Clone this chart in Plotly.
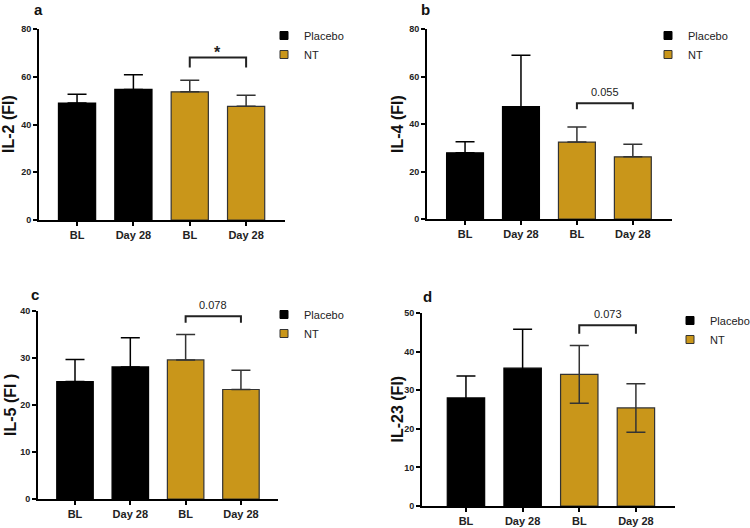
import plotly.graph_objects as go

W, H = 750, 528

categories = ["BL", "Day 28", "BL", "Day 28"]
groups = ["Placebo", "Placebo", "NT", "NT"]
panel_letters = ["a", "b", "c", "d"]
y_titles = ["IL-2 (FI)", "IL-4 (FI)", "IL-5 (FI )", "IL-23 (FI)"]

means_a = [49.0, 54.7, 53.7, 47.6]
errs_a = [3.7, 6.1, 4.8, 4.7]
means_b = [27.9, 47.3, 32.4, 26.2]
errs_b = [4.6, 21.6, 6.3, 5.3]
means_c = [25.0, 28.1, 29.6, 23.3]
errs_c = [4.7, 6.2, 5.4, 4.1]
means_d = [28.0, 35.7, 34.1, 25.4]
errs_d = [5.7, 10.1, 7.5, 6.3]

y_max = [80, 80, 40, 50]
y_dtick = [20, 20, 10, 10]
symmetric_err = [False, False, False, True]

bracket_y = [68.1, 48.7, 38.9, 46.8]
bracket_drop = [4.2, 2.5, 1.4, 2.2]
bracket_label = ["*", "0.055", "0.078", "0.073"]

means = [means_a, means_b, means_c, means_d]
errs = [errs_a, errs_b, errs_c, errs_d]

COL = {"Placebo": "#000000", "NT": "#C9961A"}
EDGE = {"Placebo": "#000000", "NT": "#333333"}
ERRCOL = {"Placebo": "#000000", "NT": "#333333"}
FONT = "Arial, Liberation Sans, sans-serif"

# layout geometry in pixels (left, right, top, bottom)
boxes = [(39, 285, 29, 220), (427, 672, 29, 219), (38, 278, 311, 499), (422, 675, 313, 506)]
xranges = [(-0.675, 3.69), (-0.68, 3.70), (-0.669, 3.67), (-0.776, 3.69)]
legend_pos = [(282, 38), (666, 38), (282, 317), (688, 323)]
letter_pos = [(38, 9), (426, 9), (35, 294), (427, 296)]
ytitle_x = [8.5, 397, 10, 397]

fig = go.Figure()
layout = dict(
    width=W, height=H, margin=dict(l=0, r=0, t=0, b=0, autoexpand=False),
    plot_bgcolor="white", paper_bgcolor="white",
    font=dict(family=FONT, color="#222222"),
    barmode="overlay",
    annotations=[], shapes=[],
)

for i in range(4):
    xa = "x" if i == 0 else f"x{i+1}"
    ya = "y" if i == 0 else f"y{i+1}"
    leg = "legend" if i == 0 else f"legend{i+1}"
    l, r, t, b = boxes[i]
    for g in ["Placebo", "NT"]:
        idx = [k for k, gg in enumerate(groups) if gg == g]
        e = [errs[i][k] for k in idx]
        err = dict(type="data", array=e, color=ERRCOL[g], thickness=1.5, width=9.5, visible=True)
        if not symmetric_err[i]:
            err["symmetric"] = False
            err["arrayminus"] = [0] * len(e)
        fig.add_trace(go.Bar(
            x=idx, y=[means[i][k] for k in idx], width=0.66,
            marker=dict(color=COL[g], line=dict(color=EDGE[g], width=1.2)),
            error_y=err, xaxis=xa, yaxis=ya, showlegend=False, hoverinfo="skip",
        ))
    for g in ["Placebo", "NT"]:
        fig.add_trace(go.Scatter(
            x=[None], y=[None], mode="markers", name=g,
            marker=dict(symbol="square", size=8, color=COL[g],
                        line=dict(color=EDGE[g], width=1)),
            xaxis=xa, yaxis=ya, legend=leg, showlegend=True,
        ))
    key = "" if i == 0 else str(i + 1)
    layout["xaxis" + key] = dict(
        domain=[l / W, r / W], range=list(xranges[i]), anchor=ya,
        tickvals=list(range(len(categories))), ticktext=categories,
        showline=True, linecolor="#000000", linewidth=2,
        ticks="outside", ticklen=4, tickwidth=2, tickcolor="#000000",
        tickfont=dict(family=FONT, size=11, color="#222222", weight="bold"),
        showgrid=False, zeroline=False, fixedrange=True,
    )
    layout["yaxis" + key] = dict(
        domain=[1 - b / H, 1 - t / H], range=[0, y_max[i]], anchor=xa,
        dtick=y_dtick[i], tick0=0,
        showline=True, linecolor="#000000", linewidth=2,
        ticks="outside", ticklen=4, tickwidth=2, tickcolor="#000000",
        tickfont=dict(family=FONT, size=9, color="#222222", weight="bold"),
        showgrid=False, zeroline=False, fixedrange=True,
    )
    lx, ly = legend_pos[i]
    layout[leg] = dict(
        x=(lx - 18) / W, y=1 - (ly - 17) / H, xanchor="left", yanchor="top",
        font=dict(family=FONT, size=11, color="#222222"),
        bgcolor="rgba(0,0,0,0)", borderwidth=0, tracegroupgap=0,
        itemclick=False, itemdoubleclick=False,
    )
    # significance bracket
    by, bd = bracket_y[i], bracket_drop[i]
    layout["shapes"].append(dict(
        type="path", xref=xa, yref=ya,
        path=f"M 2 {by - bd} L 2 {by} L 3 {by} L 3 {by - bd}",
        line=dict(color="#222222", width=2),
    ))
    is_star = bracket_label[i] == "*"
    layout["annotations"].append(dict(
        x=2.5, y=by, xref=xa, yref=ya, text=bracket_label[i], showarrow=False,
        yanchor="bottom", yshift=(-6 if is_star else 3),
        font=dict(family=FONT, size=(16 if is_star else 11), color="#222222",
                  weight=("bold" if is_star else "normal")),
    ))
    # panel letter
    px, py = letter_pos[i]
    layout["annotations"].append(dict(
        x=px / W, y=1 - py / H, xref="paper", yref="paper", text=panel_letters[i],
        showarrow=False, xanchor="center", yanchor="middle",
        font=dict(family=FONT, size=15, color="#111111", weight="bold"),
    ))
    # y title
    layout["annotations"].append(dict(
        x=ytitle_x[i] / W, y=1 - ((t + b) / 2) / H, xref="paper", yref="paper",
        text=y_titles[i], textangle=-90, showarrow=False,
        xanchor="center", yanchor="middle",
        font=dict(family=FONT, size=16, color="#111111", weight="bold"),
    ))

fig.update_layout(**layout)
fig.write_html(
    "out.html",
    config={"displayModeBar": False, "staticPlot": True},
    post_script="document.body.style.margin='0';document.body.style.overflow='hidden';",
)
